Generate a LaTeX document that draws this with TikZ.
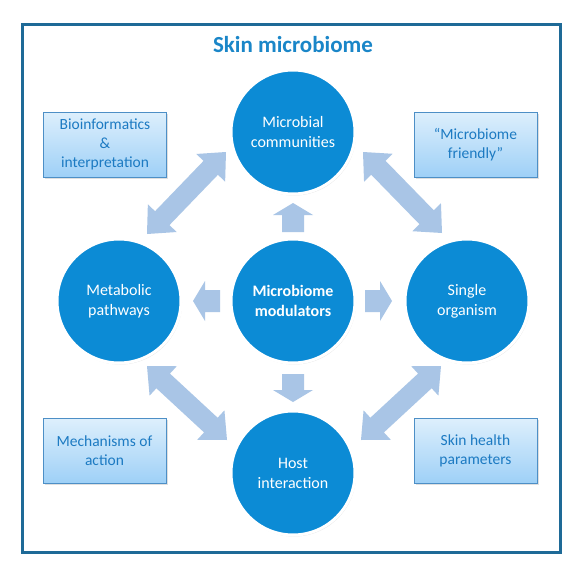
\documentclass[tikz,border=0pt]{standalone}
\usepackage{fontspec}
\setmainfont{Carlito}
\usetikzlibrary{calc,shadows}
\definecolor{framec}{HTML}{1E6A97}
\definecolor{titlec}{HTML}{1A86C8}
\definecolor{circc}{HTML}{0C8BD5}
\definecolor{arrc}{HTML}{A9C5E6}
\definecolor{boxtop}{HTML}{DDEFFC}
\definecolor{boxbot}{HTML}{9ED0F7}
\definecolor{boxline}{HTML}{4D8FC6}
\definecolor{boxtext}{HTML}{1C7AC2}
\tikzset{
  hub/.style={circle, fill=circc, draw=white, line width=3pt, minimum size=124pt,
    inner sep=0pt, text=white, align=center,
    font=\fontsize{16}{20}\selectfont,
    drop shadow={opacity=0.22, shadow xshift=1pt, shadow yshift=-1.5pt}},
  infobox/.style={rectangle, top color=boxtop, bottom color=boxbot, draw=boxline,
    line width=0.8pt, minimum width=123pt, minimum height=65pt, inner sep=0pt,
    text=boxtext, align=center, font=\fontsize{15.5}{18.8}\selectfont,
    drop shadow={opacity=0.25, shadow xshift=1.5pt, shadow yshift=-1.5pt}},
  blockarr/.style={fill=arrc, draw=none},
  titletext/.style={text=titlec, font=\fontsize{23}{27}\selectfont\bfseries},
}
% double-headed block arrow between two named coordinates
\newcommand\DArr[2]{%
  \fill[blockarr] (#1)
    -- ($(#1)!22pt!(#2)!20pt!90:(#2)$)
    -- ($(#1)!22pt!(#2)!10pt!90:(#2)$)
    -- ($(#2)!22pt!(#1)!10pt!-90:(#1)$)
    -- ($(#2)!22pt!(#1)!20pt!-90:(#1)$)
    -- (#2)
    -- ($(#2)!22pt!(#1)!20pt!90:(#1)$)
    -- ($(#2)!22pt!(#1)!10pt!90:(#1)$)
    -- ($(#1)!22pt!(#2)!10pt!-90:(#2)$)
    -- ($(#1)!22pt!(#2)!20pt!-90:(#2)$)
    -- cycle;}
% single block arrow from tail to tip
\newcommand\SArr[2]{%
  \fill[blockarr] ($(#1)!11pt!90:(#2)$)
    -- ($(#2)!12pt!(#1)!11pt!-90:(#1)$)
    -- ($(#2)!12pt!(#1)!20pt!-90:(#1)$)
    -- (#2)
    -- ($(#2)!12pt!(#1)!20pt!90:(#1)$)
    -- ($(#2)!12pt!(#1)!11pt!90:(#1)$)
    -- ($(#1)!11pt!-90:(#2)$)
    -- cycle;}
\begin{document}
\begin{tikzpicture}[x=1pt,y=-1pt]
\useasboundingbox[fill=white] (0,0) rectangle (584,578);
\draw[framec, line width=3pt] (22,25) rectangle (560,552);
\node[titletext] (title) at (293,45) {Skin microbiome};

% arrows
\coordinate (d1a) at (147,234); \coordinate (d1b) at (226,152);
\coordinate (d2a) at (363,152); \coordinate (d2b) at (442,233);
\coordinate (d3a) at (147,366); \coordinate (d3b) at (227,440);
\coordinate (d4a) at (361,440); \coordinate (d4b) at (441,366);
\DArr{d1a}{d1b}
\DArr{d2a}{d2b}
\DArr{d3a}{d3b}
\DArr{d4a}{d4b}

\coordinate (upT) at (293,232); \coordinate (upH) at (293,203);
\coordinate (lfT) at (220,301); \coordinate (lfH) at (193,301);
\coordinate (rtT) at (365,301); \coordinate (rtH) at (392,301);
\coordinate (dnT) at (293,374); \coordinate (dnH) at (293,402);
\SArr{upT}{upH}
\SArr{lfT}{lfH}
\SArr{rtT}{rtH}
\SArr{dnT}{dnH}

% circles
\node[hub] (top) at (293,132) {Microbial\\communities};
\node[hub] (left) at (119,301) {Metabolic\\pathways};
\node[hub, font=\fontsize{16}{20}\selectfont\bfseries] (center) at (293,301) {Microbiome\\modulators};
\node[hub] (right) at (467,301) {Single\\organism};
\node[hub] (bottom) at (293,473) {Host\\interaction};

% boxes
\node[infobox] (bioinf) at (105,144.5) {Bioinformatics\\\&\\interpretation};
\node[infobox] (friendly) at (475.5,144.5) {“Microbiome\\friendly”};
\node[infobox] (mech) at (104.5,451) {Mechanisms of\\action};
\node[infobox] (skinh) at (475.5,451) {Skin health\\parameters};
\end{tikzpicture}
\end{document}
